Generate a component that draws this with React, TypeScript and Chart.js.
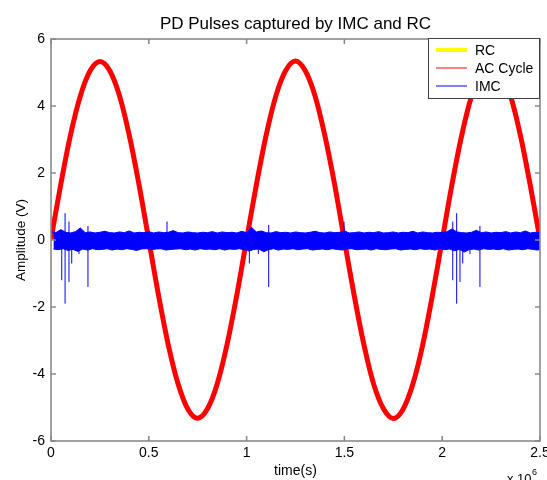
import React, { useEffect, useRef } from "react";
import { Chart, registerables } from "chart.js";

Chart.register(...registerables);

const chartTitle = "PD Pulses captured by IMC and RC";
const xAxisTitle = "time(s)";
const yAxisTitle = "Amplitude (V)";
const xExponentBase = "x 10";
const xExponent = "6";
const xMin = 0;
const xMax = 2.5e6;
const xTickStep = 0.5e6;
const yMin = -6;
const yMax = 6;
const yTickStep = 2;

// RC: appears only in the legend (no visible trace)
const rcValues: number[] = [];

// AC Cycle, sampled every 0.05e6 s
const acStep = 50000;
const acCycle = [
  0.02, 1.66, 3.14, 4.3, 5.05, 5.33, 5.06, 4.31, 3.13, 1.65, 0.0,
  -1.66, -3.14, -4.3, -5.05, -5.32, -5.04, -4.29, -3.12, -1.64, 0.01,
  1.65, 3.13, 4.31, 5.06, 5.34, 5.05, 4.3, 3.12, 1.66, -0.01,
  -1.65, -3.13, -4.31, -5.04, -5.33, -5.05, -4.3, -3.14, -1.65, 0.0,
  1.66, 3.13, 4.3, 5.05, 5.33, 5.04, 4.29, 3.12, 1.64, 0.01,
];

// IMC noise band, upper / lower excursions every 0.025e6 s
const imcStep = 25000;
const imcHigh = [
  0.24, 0.22, 0.31, 0.23, 0.21, 0.25, 0.36, 0.22, 0.24, 0.21,
  0.23, 0.26, 0.22, 0.21, 0.24, 0.22, 0.27, 0.21, 0.23, 0.22,
  0.25, 0.21, 0.24, 0.22, 0.23, 0.28, 0.22, 0.21, 0.24, 0.22,
  0.21, 0.23, 0.22, 0.25, 0.21, 0.24, 0.22, 0.23, 0.21, 0.26,
  0.22, 0.38, 0.24, 0.27, 0.22, 0.21, 0.25, 0.22, 0.23, 0.21,
  0.24, 0.22, 0.21, 0.23, 0.26, 0.22, 0.21, 0.24, 0.22, 0.23,
  0.27, 0.21, 0.22, 0.24, 0.21, 0.23, 0.22, 0.25, 0.21, 0.22,
  0.24, 0.21, 0.23, 0.22, 0.26, 0.21, 0.24, 0.22, 0.21, 0.23,
  0.22, 0.25, 0.33, 0.24, 0.22, 0.21, 0.23, 0.29, 0.22, 0.24,
  0.21, 0.23, 0.22, 0.25, 0.21, 0.24, 0.22, 0.27, 0.21, 0.23,
  0.22,
];
const imcLow = [
  -0.27, -0.29, -0.26, -0.31, -0.28, -0.34, -0.27, -0.3, -0.26, -0.29,
  -0.28, -0.26, -0.3, -0.27, -0.29, -0.26, -0.28, -0.31, -0.27, -0.26,
  -0.29, -0.27, -0.26, -0.3, -0.28, -0.27, -0.26, -0.29, -0.27, -0.3,
  -0.26, -0.28, -0.27, -0.29, -0.26, -0.3, -0.27, -0.28, -0.26, -0.29,
  -0.33, -0.28, -0.27, -0.35, -0.29, -0.26, -0.3, -0.27, -0.28, -0.26,
  -0.29, -0.27, -0.26, -0.3, -0.28, -0.27, -0.29, -0.26, -0.28, -0.3,
  -0.27, -0.26, -0.29, -0.28, -0.27, -0.3, -0.26, -0.28, -0.29, -0.27,
  -0.26, -0.3, -0.28, -0.27, -0.29, -0.26, -0.28, -0.27, -0.3, -0.26,
  -0.29, -0.27, -0.32, -0.28, -0.36, -0.29, -0.27, -0.3, -0.26, -0.28,
  -0.27, -0.29, -0.26, -0.3, -0.28, -0.27, -0.29, -0.26, -0.28, -0.3,
  -0.27,
];

// IMC discharge pulses
const spikeTimes = [
  55000, 72000, 92000, 106000, 143000, 189000, 593000,
  1014000, 1060000, 1113000, 1498000,
  2054000, 2074000, 2091000, 2105000, 2142000, 2193000,
];
const spikeMin = [
  -1.2, -1.9, -1.25, -0.7, -0.42, -1.4, 0,
  -0.7, -0.42, -1.4, 0,
  -1.2, -1.9, -1.25, -0.7, -0.42, -1.4,
];
const spikeMax = [
  0, 0.8, 0.55, 0, 0, 0.42, 0.55,
  0, 0, 0.45, 0.55,
  0.55, 0.8, 0, 0, 0, 0.42,
];

const FONT = "'Liberation Sans', Arial, Helvetica, sans-serif";

const decorPlugin = {
  id: "matlabDecor",
  afterDatasetsDraw(chart: any) {
    const { ctx, chartArea: a, scales } = chart;
    ctx.save();
    // axes frame
    ctx.strokeStyle = "#8a8a8a";
    ctx.lineWidth = 1.6;
    ctx.strokeRect(a.left, a.top, a.right - a.left, a.bottom - a.top);
    // inward ticks
    ctx.beginPath();
    scales.x.ticks.forEach((t: any) => {
      const px = scales.x.getPixelForValue(t.value);
      ctx.moveTo(px, a.bottom);
      ctx.lineTo(px, a.bottom - 5);
      ctx.moveTo(px, a.top);
      ctx.lineTo(px, a.top + 5);
    });
    scales.y.ticks.forEach((t: any) => {
      const py = scales.y.getPixelForValue(t.value);
      ctx.moveTo(a.left, py);
      ctx.lineTo(a.left + 5, py);
      ctx.moveTo(a.right, py);
      ctx.lineTo(a.right - 5, py);
    });
    ctx.stroke();

    // legend
    const entries = chart.data.datasets.filter((d: any) => d.label);
    const bx = 428.5, by = 38.5, bw = 111, bh = 60;
    ctx.fillStyle = "#ffffff";
    ctx.fillRect(bx, by, bw, bh);
    ctx.strokeStyle = "#404040";
    ctx.lineWidth = 1;
    ctx.strokeRect(bx, by, bw, bh);
    ctx.font = `14px ${FONT}`;
    ctx.textBaseline = "middle";
    ctx.textAlign = "left";
    entries.forEach((d: any, i: number) => {
      const y = 50 + i * 18;
      ctx.strokeStyle = d.borderColor;
      ctx.lineWidth = d.legendLineWidth;
      ctx.beginPath();
      ctx.moveTo(436, y);
      ctx.lineTo(467, y);
      ctx.stroke();
      ctx.fillStyle = "#000";
      ctx.fillText(d.label, 475, y + 1);
    });

    // title
    ctx.fillStyle = "#000";
    ctx.textAlign = "center";
    ctx.textBaseline = "alphabetic";
    ctx.font = `17px ${FONT}`;
    ctx.fillText(chartTitle, (a.left + a.right) / 2, 29);

    // exponent
    ctx.textAlign = "left";
    ctx.font = `13px ${FONT}`;
    ctx.fillText(xExponentBase, 507, 483);
    ctx.font = `9px ${FONT}`;
    ctx.fillText(xExponent, 532, 475);
    ctx.restore();
  },
};

export default function App() {
  const ref = useRef<HTMLCanvasElement | null>(null);

  useEffect(() => {
    if (!ref.current) return;
    const acData = acCycle.map((v, i) => ({ x: i * acStep, y: v }));
    const imcLowData = imcLow.map((v, i) => ({ x: i * imcStep + imcStep / 2, y: v }));
    const imcHighData = imcHigh.map((v, i) => ({ x: i * imcStep, y: v }));
    const spikeData: any[] = [];
    spikeTimes.forEach((t, i) => {
      spikeData.push({ x: t, y: spikeMin[i] });
      spikeData.push({ x: t, y: spikeMax[i] });
      spikeData.push({ x: t, y: null });
    });

    const chart = new Chart(ref.current, {
      type: "line",
      data: {
        datasets: [
          {
            label: "RC",
            data: rcValues.map((v, i) => ({ x: i, y: v })),
            borderColor: "#ffff00",
            borderWidth: 4,
            legendLineWidth: 4,
            pointRadius: 0,
            order: 3,
          } as any,
          {
            label: "AC Cycle",
            data: acData,
            borderColor: "#ff0000",
            borderWidth: 5,
            legendLineWidth: 1,
            pointRadius: 0,
            tension: 0.35,
            order: 2,
          } as any,
          {
            label: "IMC",
            data: imcLowData,
            borderColor: "#0000ff",
            backgroundColor: "#0000ff",
            borderWidth: 1,
            fill: "+1",
            legendLineWidth: 1,
            pointRadius: 0,
            tension: 0,
            order: 1,
          } as any,
          {
            label: "",
            data: imcHighData,
            borderColor: "#0000ff",
            borderWidth: 1,
            pointRadius: 0,
            tension: 0,
            fill: false,
            order: 1,
          } as any,
          {
            label: "",
            data: spikeData,
            borderColor: "#0000ff",
            borderWidth: 1,
            pointRadius: 0,
            spanGaps: false,
            tension: 0,
            fill: false,
            order: 0,
          } as any,
        ],
      },
      options: {
        animation: false,
        responsive: false,
        events: [],
        layout: { padding: { left: 0, right: 7, top: 39, bottom: 0 } },
        plugins: {
          legend: { display: false },
          title: { display: false },
          tooltip: { enabled: false },
          filler: { propagate: false },
        },
        scales: {
          x: {
            type: "linear",
            min: xMin,
            max: xMax,
            grid: { display: false, drawTicks: false },
            border: { display: false },
            ticks: {
              stepSize: xTickStep,
              padding: 4,
              color: "#000",
              font: { family: FONT, size: 14 },
              maxRotation: 0,
              autoSkip: false,
              callback: (v: any) => String(Number(v) / 1e6),
            },
            title: {
              display: true,
              text: xAxisTitle,
              color: "#000",
              font: { family: FONT, size: 14 },
              padding: { top: 0, bottom: 0 },
            },
            afterFit: (s: any) => {
              s.height = 39;
              s.paddingLeft = 0;
              s.paddingRight = 0;
            },
          },
          y: {
            type: "linear",
            min: yMin,
            max: yMax,
            grid: { display: false, drawTicks: false },
            border: { display: false },
            ticks: {
              stepSize: yTickStep,
              padding: 6,
              color: "#000",
              font: { family: FONT, size: 14 },
            },
            title: {
              display: true,
              text: yAxisTitle,
              color: "#000",
              font: { family: FONT, size: 13.5 },
              padding: { top: 13, bottom: 0 },
            },
            afterFit: (s: any) => {
              s.width = 51;
              s.paddingTop = 0;
              s.paddingBottom = 0;
            },
          },
        },
      } as any,
      plugins: [decorPlugin],
    });
    return () => chart.destroy();
  }, []);

  return (
    <div style={{ position: "absolute", left: 0, top: 0, width: 547, height: 480, background: "#fff" }}>
      <canvas ref={ref} width={547} height={480} style={{ display: "block" }} />
    </div>
  );
}
